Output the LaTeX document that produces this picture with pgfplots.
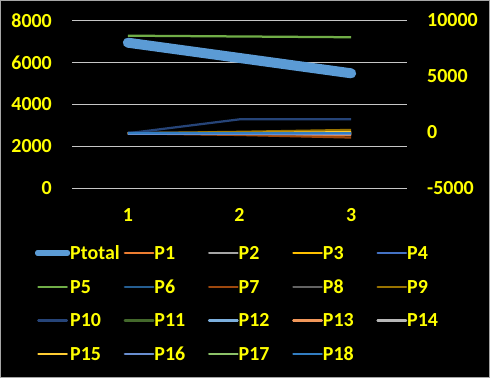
\documentclass[border=0pt]{standalone}
\usepackage{pgfplots}
\pgfplotsset{compat=1.18}
\usepackage{fontspec}
\setmainfont{Carlito}
\definecolor{cT}{HTML}{5B9BD5}
\definecolor{c1}{HTML}{ED7D31}
\definecolor{c2}{HTML}{A5A5A5}
\definecolor{c3}{HTML}{FFC000}
\definecolor{c4}{HTML}{4472C4}
\definecolor{c5}{HTML}{70AD47}
\definecolor{c6}{HTML}{255E91}
\definecolor{c7}{HTML}{9E480E}
\definecolor{c8}{HTML}{636363}
\definecolor{c9}{HTML}{997300}
\definecolor{c10}{HTML}{264478}
\definecolor{c11}{HTML}{43682B}
\definecolor{c12}{HTML}{7CAFDD}
\definecolor{c13}{HTML}{F1975A}
\definecolor{c14}{HTML}{B7B7B7}
\definecolor{c15}{HTML}{FFCD33}
\definecolor{c16}{HTML}{698ED0}
\definecolor{c17}{HTML}{8CC168}
\definecolor{c18}{HTML}{327DC2}
\definecolor{yel}{HTML}{FFFF00}
\pgfplotsset{
  myaxis/.style={
    scale only axis, width=335bp, height=167.5bp, at={(72bp,190bp)}, anchor=south west,
    xmin=0.5, xmax=3.5, axis line style={draw=none}, major tick length=0pt,
    tick label style={font=\fontsize{20}{24}\selectfont\bfseries, text=yel},
    /pgf/number format/assume math mode=true, /pgf/number format/1000 sep={},
    scaled y ticks=false, clip=false,
  }
}
\begin{document}
\begin{tikzpicture}[x=1bp,y=1bp]
\path[use as bounding box] (0,0) rectangle (490,378);
\fill[black] (0,0) rectangle (490,378);
\draw[gray!70, line width=1bp] (0.5,0.5) rectangle (489.5,377.5);
\begin{axis}[myaxis, ymin=0, ymax=8000, ytick={0,2000,4000,6000,8000},
  xtick={1,2,3}, ymajorgrids, grid style={line width=1bp, color=gray!45!white},
  yticklabel style={anchor=east, inner sep=0pt, xshift=-20bp},
  xticklabel style={anchor=base, inner sep=0pt, yshift=-33bp}]
\addplot[color=cT, line width=10bp, line cap=round, line join=round] coordinates {(1,6940) (2,6210) (3,5478)};
\end{axis}
\begin{axis}[myaxis, ymin=-5000, ymax=10000, ytick={-5000,0,5000,10000},
  xtick=\empty, yticklabel pos=right,
  yticklabel style={anchor=west, inner sep=0pt, xshift=20bp},
  every axis plot/.append style={line width=2.25bp, line join=round},
  legend image code/.code={\path (0bp,0bp) rectangle (28.5bp,0bp); \draw[#1] (0bp,0bp) -- (28bp,0bp);},
  legend columns=5, legend cell align=left,
  legend style={at={(-0.1104,-0.3493)}, anchor=north west, draw=none, fill=none,
    inner sep=0pt, outer sep=0pt, column sep=0pt, row sep=20.7bp,
    font=\fontsize{20}{24}\selectfont\bfseries, text=yel,
    nodes={inner sep=0pt, outer sep=0pt, text width=53.5bp, text height=13bp, text depth=0bp, align=left, text=yel}}]
\addlegendimage{line width=6.7bp, line cap=round, color=cT}
\addlegendentry{Ptotal}
\addplot[c1] coordinates {(1,-100) (2,-180) (3,-250)}; \addlegendentry{P1}
\addplot[c2] coordinates {(1,-100) (2,-100) (3,-150)}; \addlegendentry{P2}
\addplot[c3] coordinates {(1,-100) (2,-80) (3,-50)}; \addlegendentry{P3}
\addplot[c4] coordinates {(1,-60) (2,-50) (3,-40)}; \addlegendentry{P4}
\addplot[c5] coordinates {(1,8640) (2,8570) (3,8500)}; \addlegendentry{P5}
\addplot[c6] coordinates {(1,-100) (2,-100) (3,-50)}; \addlegendentry{P6}
\addplot[c7] coordinates {(1,-100) (2,-250) (3,-480)}; \addlegendentry{P7}
\addplot[c8] coordinates {(1,-100) (2,-120) (3,-150)}; \addlegendentry{P8}
\addplot[c9] coordinates {(1,-100) (2,30) (3,200)}; \addlegendentry{P9}
\addplot[c10] coordinates {(1,-100) (2,1150) (3,1150)}; \addlegendentry{P10}
\addplot[c11] coordinates {(1,-100) (2,-100) (3,-100)}; \addlegendentry{P11}
\addplot[c12] coordinates {(1,-100) (2,-100) (3,-100)}; \addlegendentry{P12}
\addplot[c13] coordinates {(1,-100) (2,-150) (3,-200)}; \addlegendentry{P13}
\addplot[c14] coordinates {(1,-100) (2,-100) (3,-100)}; \addlegendentry{P14}
\addplot[c15] coordinates {(1,-100) (2,-80) (3,0)}; \addlegendentry{P15}
\addplot[c16] coordinates {(1,-140) (2,-150) (3,-160)}; \addlegendentry{P16}
\addplot[c17] coordinates {(1,-100) (2,-100) (3,-100)}; \addlegendentry{P17}
\addplot[c18] coordinates {(1,-100) (2,-100) (3,-100)}; \addlegendentry{P18}
\end{axis}
\end{tikzpicture}
\end{document}
